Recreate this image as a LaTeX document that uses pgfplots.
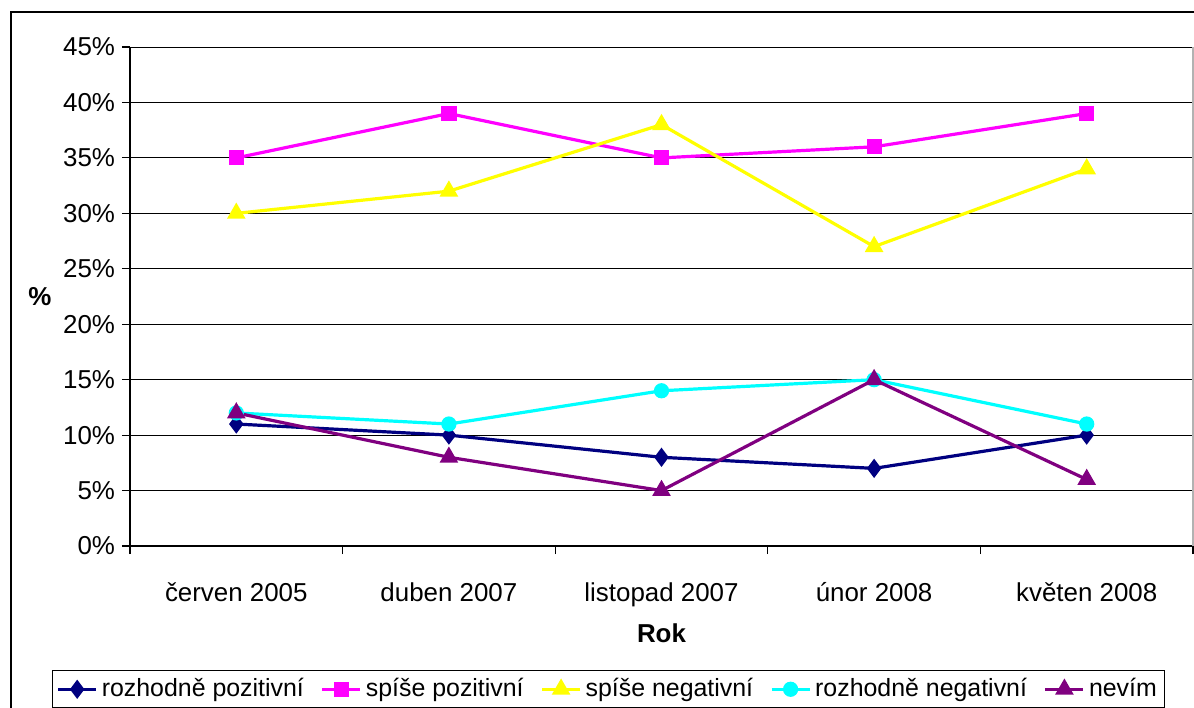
\documentclass[border=0pt]{standalone}
\usepackage{pgfplots}
\pgfplotsset{compat=1.18}
\usepackage{fontspec}
\setmainfont{Liberation Sans}
\definecolor{cnavy}{RGB}{0,0,128}
\definecolor{cmag}{RGB}{255,0,255}
\definecolor{cyel}{RGB}{255,255,0}
\definecolor{ccyan}{RGB}{0,255,255}
\definecolor{cpur}{RGB}{128,0,128}
\begin{document}
\begin{tikzpicture}
\useasboundingbox (0,0) rectangle (597bp,-354bp);
\clip (0,0) rectangle (597bp,-354bp);
\draw[line width=0.6bp] (5.5bp,-6bp) rectangle (620bp,-400bp);
\begin{axis}[
  at={(65bp,-273bp)}, anchor=south west, scale only axis,
  width=531.5bp, height=249.5bp,
  xmin=-0.5, xmax=4.5, ymin=0, ymax=45,
  axis x line*=bottom, axis y line*=left,
  axis line style={black, line width=0.6bp},
  xtick={0,1,2,3,4},
  xticklabels={červen 2005, duben 2007, listopad 2007, únor 2008, květen 2008},
  minor xtick={-0.5,0.5,1.5,2.5,3.5,4.5},
  ytick={0,5,...,45},
  yticklabels={0\%,5\%,10\%,15\%,20\%,25\%,30\%,35\%,40\%,45\%},
  tick align=outside,
  major tick length=4bp, minor tick length=4bp,
  major x tick style={draw=none},
  tick style={black, line width=0.6bp},
  ymajorgrids, grid style={black, line width=0.5bp},
  /pgf/number format/assume math mode=true,
  every tick label/.append style={font=\fontsize{13}{15}\selectfont},
  xticklabel style={yshift=-10bp, text height=10bp, text depth=3bp},
  xlabel={Rok}, ylabel={\%},
  xlabel style={at={(axis description cs:0.5,-0.1743)}, anchor=center, font=\bfseries\fontsize{13}{15}\selectfont},
  ylabel style={at={(axis description cs:-0.0847,0.499)}, anchor=center, rotate=-90, font=\bfseries\fontsize{13}{15}\selectfont},
  legend columns=5,
  legend cell align=left,
  legend style={at={(-0.0734,-0.2485)}, anchor=north west, draw=black, line width=0.6bp,
    font=\fontsize{12.5}{14}\selectfont, inner xsep=2bp, inner ysep=2bp,
    /tikz/every even column/.append style={column sep=6.4bp}},
  legend image code/.code={\draw[mark repeat=2,mark phase=2] plot coordinates {(0bp,0bp) (9.5bp,0bp) (19bp,0bp)};},
  every axis plot/.append style={line width=1.6bp, mark options={solid}},
  clip=false,
]
\draw[gray!60, line width=0.6bp] (rel axis cs:1,0) -- (rel axis cs:1,1);
\addplot[cnavy, mark=diamond*, mark size=3.5bp] coordinates {(0,11) (1,10) (2,8) (3,7) (4,10)};
\addlegendentry{rozhodně pozitivní}
\addplot[cmag, mark=square*, mark size=3bp] coordinates {(0,35) (1,39) (2,35) (3,36) (4,39)};
\addlegendentry{spíše pozitivní}
\addplot[cyel, mark=triangle*, mark size=3.8bp] coordinates {(0,30) (1,32) (2,38) (3,27) (4,34)};
\addlegendentry{spíše negativní}
\addplot[ccyan, mark=*, mark size=3bp] coordinates {(0,12) (1,11) (2,14) (3,15) (4,11)};
\addlegendentry{rozhodně negativní}
\addplot[cpur, mark=triangle*, mark size=3.8bp] coordinates {(0,12) (1,8) (2,5) (3,15) (4,6)};
\addlegendentry{nevím}
\end{axis}
\end{tikzpicture}
\end{document}
